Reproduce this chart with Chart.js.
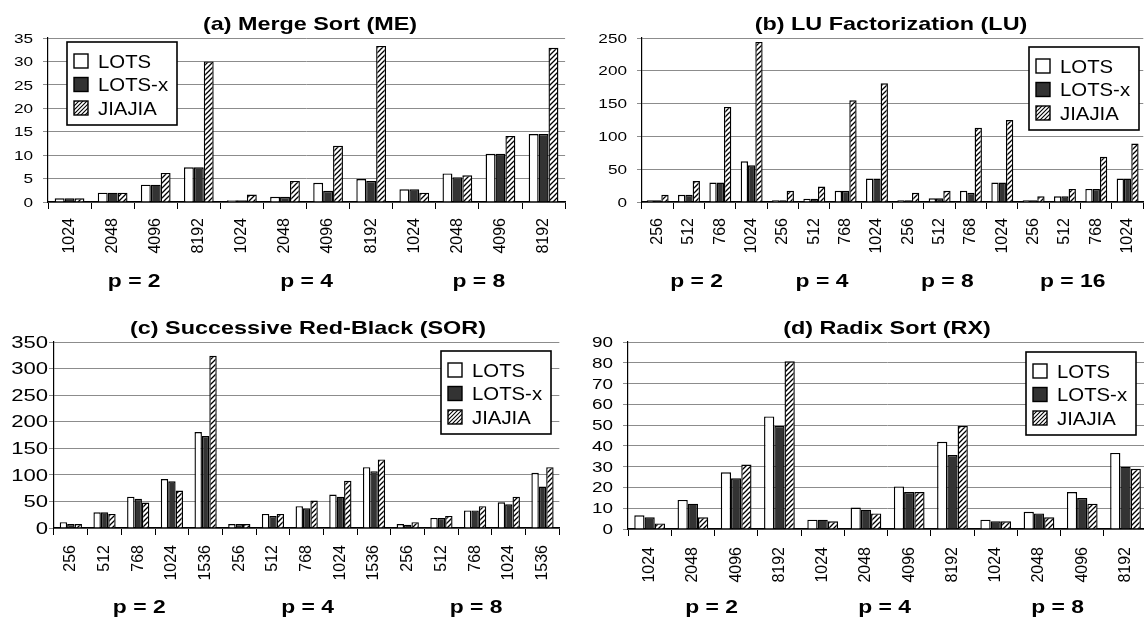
<!DOCTYPE html>
<html>
<head>
<meta charset="utf-8">
<script src="https://cdn.jsdelivr.net/npm/chart.js@4.4.0/dist/chart.umd.min.js"></script>
<style>
html,body{margin:0;padding:0;background:#fff;overflow:hidden;width:1144px;height:619px;}
#wrap{position:relative;width:1144px;height:619px;overflow:hidden;}
canvas{position:absolute;}
</style>
</head>
<body>
<div id="wrap">
<canvas id="cA" width="572" height="300" style="left:0;top:0;width:572px;height:300px"></canvas>
<canvas id="cB" width="584" height="300" style="left:572px;top:0;width:584px;height:300px"></canvas>
<canvas id="cC" width="572" height="319" style="left:0;top:300px;width:572px;height:319px"></canvas>
<canvas id="cD" width="584" height="319" style="left:572px;top:300px;width:584px;height:319px"></canvas>
</div>
<script>
// ---------- data ----------
const seriesNames = ['LOTS', 'LOTS-x', 'JIAJIA'];

const meLabels = ['1024','2048','4096','8192','1024','2048','4096','8192','1024','2048','4096','8192'];
const meGroups = ['p = 2','p = 4','p = 8'];
const meLOTS   = [0.8, 2.0, 3.7, 7.4, 0.4, 1.1, 4.1, 4.9, 2.7, 6.1, 10.3, 14.5];
const meLOTSx  = [0.8, 2.0, 3.7, 7.4, 0.4, 1.1, 2.4, 4.5, 2.7, 5.3, 10.3, 14.5];
const meJIAJIA = [0.8, 2.0, 6.2, 30.0, 1.6, 4.5, 12.0, 33.3, 2.0, 5.7, 14.1, 32.9];

const luLabels = ['256','512','768','1024','256','512','768','1024','256','512','768','1024','256','512','768','1024'];
const luGroups = ['p = 2','p = 4','p = 8','p = 16'];
const luLOTS   = [2.5, 11, 29.6, 62, 2.5, 5, 17, 35.7, 2.5, 5.6, 17, 29.6, 2.5, 8.7, 20, 35.7];
const luLOTSx  = [2.5, 11, 29.6, 56, 2.5, 5, 17, 35.7, 2.5, 5.6, 14, 29.6, 2.5, 8.7, 20, 35.7];
const luJIAJIA = [11, 32, 145, 244, 17, 23.5, 155, 181, 14, 17, 113, 125, 8.7, 20, 69, 89];

const sorLabels = ['256','512','768','1024','1536','256','512','768','1024','1536','256','512','768','1024','1536'];
const sorGroups = ['p = 2','p = 4','p = 8'];
const sorLOTS   = [11, 29.6, 59, 92, 180.6, 7.5, 26.4, 41, 63, 114.5, 7.5, 19, 33, 48.5, 104];
const sorLOTSx  = [7.5, 29.6, 55, 88, 173, 7.5, 22.7, 37, 59, 107, 6.3, 19, 33, 44.7, 78];
const sorJIAJIA = [7.5, 26.4, 48, 70.5, 324, 7.5, 26.4, 51.6, 88.7, 129, 11, 22.7, 41, 59, 114.5];

const rxLabels = ['1024','2048','4096','8192','1024','2048','4096','8192','1024','2048','4096','8192'];
const rxGroups = ['p = 2','p = 4','p = 8'];
const rxLOTS   = [6.6, 14, 27.3, 54.2, 4.5, 10.3, 20.5, 42, 4.5, 8.3, 17.8, 36.6];
const rxLOTSx  = [5.6, 12.2, 24.4, 49.6, 4.5, 9.3, 17.8, 35.6, 3.7, 7.5, 14.9, 30];
const rxJIAJIA = [2.7, 5.6, 31, 80.7, 3.7, 7.5, 17.8, 49.6, 3.7, 5.6, 12.2, 29];

// ---------- styling helpers ----------
const FONT = '"Liberation Sans", Arial, sans-serif';
function hatch(period, lw) {
  const c = document.createElement('canvas');
  c.width = period; c.height = period;
  const g = c.getContext('2d');
  g.fillStyle = '#fff'; g.fillRect(0, 0, period, period);
  g.strokeStyle = '#000'; g.lineWidth = lw;
  g.beginPath();
  g.moveTo(-1, period + 1); g.lineTo(period + 1, -1);
  g.moveTo(-1, 1); g.lineTo(1, -1);
  g.moveTo(period - 1, period + 1); g.lineTo(period + 1, period - 1);
  g.stroke();
  return document.getElementById('cA').getContext('2d').createPattern(c, 'repeat');
}
const barHatch = hatch(5, 1.3);
const legHatch = hatch(4, 1.1);
const fills = ['#ffffff', '#333333', barHatch];
const legFills = ['#ffffff', '#333333', legHatch];

function stretchText(ctx, text, x, y, font, sx, align) {
  ctx.save();
  ctx.font = font;
  ctx.fillStyle = '#000';
  ctx.textAlign = align;
  ctx.textBaseline = 'alphabetic';
  ctx.translate(x, y);
  ctx.scale(sx, 1);
  ctx.fillText(text, 0, 0);
  ctx.restore();
}

function makeChart(id, labels, groups, values, o) {
  const ctx = document.getElementById(id).getContext('2d');
  const decor = {
    id: 'decor' + id,
    afterDraw(chart) {
      const c = chart.ctx;
      const xs = chart.scales.x, ys = chart.scales.y;
      // y tick labels
      ys.ticks.forEach(t => {
        const y = ys.getPixelForValue(t.value);
        stretchText(c, String(t.value), o.yLabelRight, y + o.yFont * 0.36, o.yFont + 'px ' + FONT, o.ySx, 'right');
      });
      // title
      stretchText(c, o.title, o.titleX, o.titleY, 'bold 19px ' + FONT, 1.23, 'center');
      // group labels
      const n = labels.length / groups.length;
      groups.forEach((g, i) => {
        const x = (xs.getPixelForValue(i * n) + xs.getPixelForValue(i * n + n - 1)) / 2 + o.groupDx;
        stretchText(c, g, x, o.groupY, 'bold 18px ' + FONT, 1.27, 'center');
      });
      // legend
      const bx = o.legX, by = o.legY, bw = 110, bh = 83;
      c.save();
      c.fillStyle = '#fff';
      c.fillRect(bx, by, bw, bh);
      c.strokeStyle = '#000'; c.lineWidth = 1.6;
      c.strokeRect(bx, by, bw, bh);
      chart.data.datasets.forEach((ds, i) => {
        const cy = by + 19 + 23.5 * i;
        c.fillStyle = legFills[i];
        c.fillRect(bx + 7, cy - 7, 14, 14);
        c.lineWidth = 1.4; c.strokeStyle = '#000';
        c.strokeRect(bx + 7, cy - 7, 14, 14);
        stretchText(c, ds.label, bx + 31, cy + 6.5, '18px ' + FONT, 1.13, 'left');
      });
      c.restore();
    }
  };
  return new Chart(ctx, {
    type: 'bar',
    data: {
      labels: labels,
      datasets: values.map((v, i) => ({
        label: seriesNames[i],
        data: v,
        backgroundColor: fills[i],
        borderColor: '#000',
        borderWidth: 1.4,
        barPercentage: 1.0,
        categoryPercentage: o.catPct
      }))
    },
    options: {
      responsive: false,
      animation: false,
      events: [],
      layout: { padding: { left: 0, right: o.padRight, top: o.padTop, bottom: 0 } },
      plugins: { legend: { display: false }, title: { display: false }, tooltip: { enabled: false } },
      scales: {
        x: {
          afterFit: s => { s.height = o.xHeight; },
          grid: { offset: true, drawOnChartArea: false, drawTicks: true, tickLength: 7, color: '#000', lineWidth: 1 },
          border: { color: '#000', width: 1.5 },
          ticks: { autoSkip: false, minRotation: 90, maxRotation: 90, padding: o.xPad, color: '#000', font: { family: FONT, size: 16 } }
        },
        y: {
          min: 0, max: o.yMax,
          afterFit: s => { s.width = o.yWidth; },
          grid: { color: '#8c8c8c', lineWidth: 1, drawTicks: true, tickLength: 5 },
          border: { color: '#000', width: 1.2 },
          ticks: { display: false, stepSize: o.yStep }
        }
      }
    },
    plugins: [decor]
  });
}

makeChart('cA', meLabels, meGroups, [meLOTS, meLOTSx, meJIAJIA], {
  title: '(a) Merge Sort (ME)', titleX: 310, titleY: 30,
  yMax: 35, yStep: 5, yWidth: 48, xHeight: 98, padTop: 38, padRight: 6, xPad: 9,
  yLabelRight: 33, yFont: 13, ySx: 1.32, catPct: 0.69,
  groupY: 287, groupDx: 0, legX: 67, legY: 42
});
makeChart('cB', luLabels, luGroups, [luLOTS, luLOTSx, luJIAJIA], {
  title: '(b) LU Factorization (LU)', titleX: 319, titleY: 30,
  yMax: 250, yStep: 50, yWidth: 70, xHeight: 98, padTop: 38, padRight: 6, xPad: 9,
  yLabelRight: 55, yFont: 13, ySx: 1.32, catPct: 0.70,
  groupY: 287, groupDx: -8, legX: 457, legY: 47
});
makeChart('cC', sorLabels, sorGroups, [sorLOTS, sorLOTSx, sorJIAJIA], {
  title: '(c) Successive Red-Black (SOR)', titleX: 308, titleY: 34,
  yMax: 350, yStep: 50, yWidth: 54, xHeight: 91, padTop: 42, padRight: 9, xPad: 10,
  yLabelRight: 48, yFont: 16, ySx: 1.38, catPct: 0.66,
  groupY: 313, groupDx: 1, legX: 441, legY: 51
});
makeChart('cD', rxLabels, rxGroups, [rxLOTS, rxLOTSx, rxJIAJIA], {
  title: '(d) Radix Sort (RX)', titleX: 315, titleY: 34,
  yMax: 90, yStep: 10, yWidth: 56, xHeight: 90, padTop: 42, padRight: 7, xPad: 11,
  yLabelRight: 41, yFont: 14, ySx: 1.35, catPct: 0.71,
  groupY: 313, groupDx: -3, legX: 454, legY: 52
});
</script>
</body>
</html>
